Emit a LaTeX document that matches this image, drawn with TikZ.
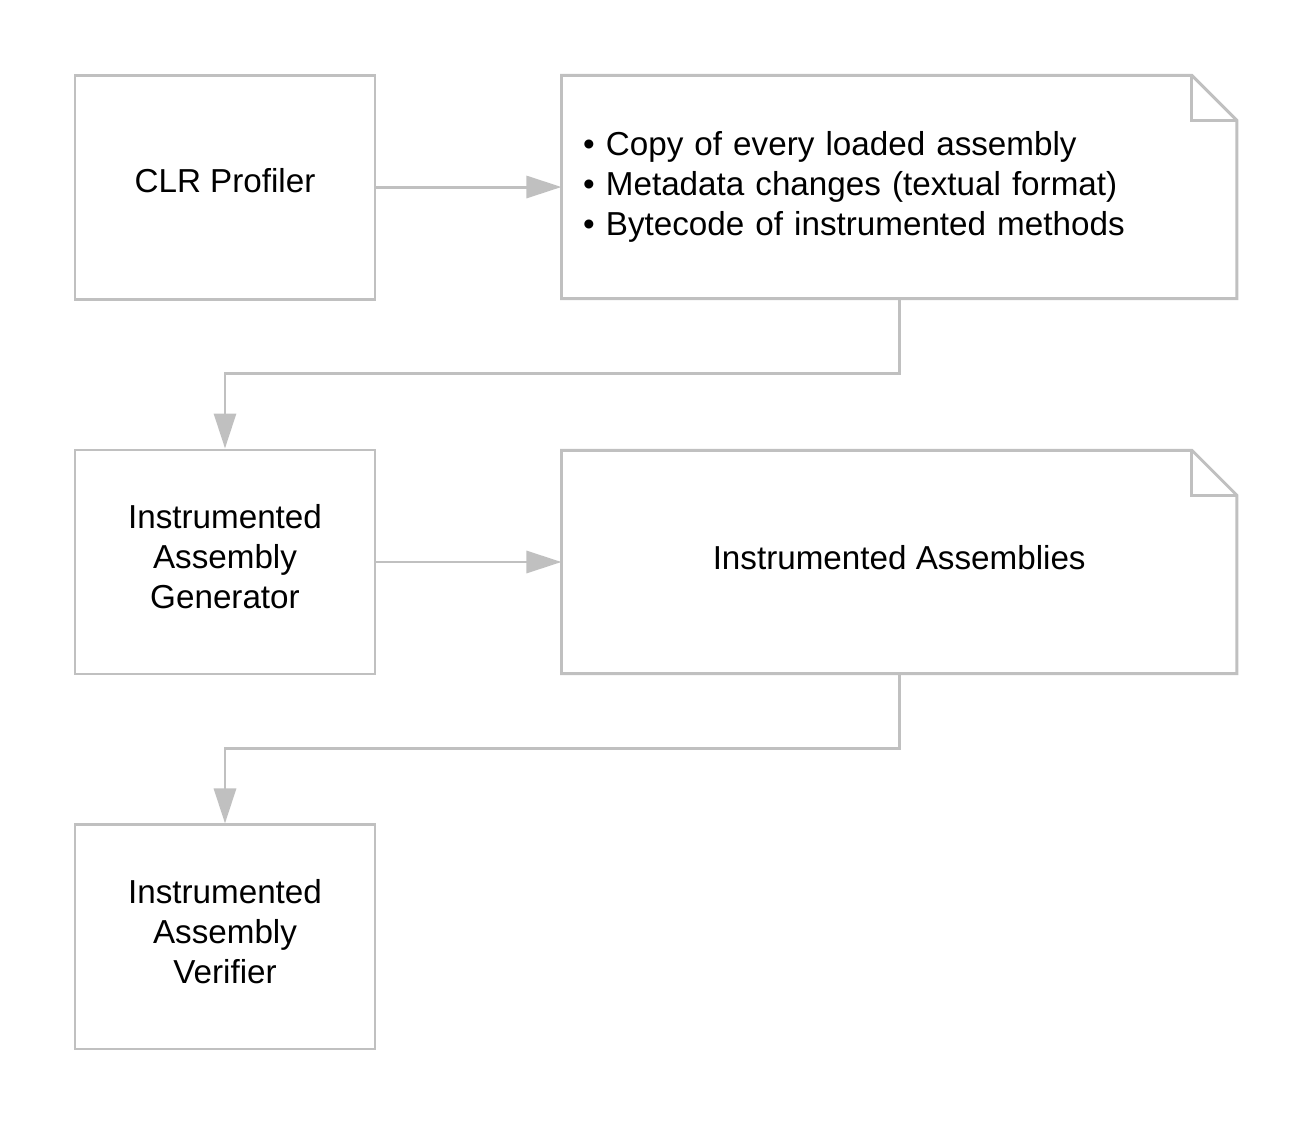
\documentclass[tikz,border=0pt]{standalone}
\usepackage{fontspec}
\setmainfont{Liberation Sans}
\usepackage{tikz}
\usetikzlibrary{arrows.meta,positioning}
\definecolor{lineg}{HTML}{C0C0C0}
\tikzset{
  box/.style={draw=lineg,line width=0.85pt,minimum width=3cm,minimum height=2.24cm,
    align=center,inner sep=0pt},
  note/.style={minimum width=6.74cm,minimum height=2.22cm,inner sep=0pt},
  every node/.style={font=\fontsize{9.45}{11.4}\selectfont}
}
\tikzstyle{arrow} = [draw=lineg,line width=0.85pt,-{Triangle[length=3.5mm,width=2.2mm,fill=lineg]}]
\newcommand{\dogear}[1]{%
  \draw[draw=lineg,line width=0.85pt] (#1.north west) -- ([xshift=-0.45cm]#1.north east)
    -- ([yshift=-0.45cm]#1.north east) -- (#1.south east) -- (#1.south west) -- cycle;
  \draw[draw=lineg,line width=0.85pt] ([xshift=-0.45cm]#1.north east)
    |- ([yshift=-0.45cm]#1.north east);}

\begin{document}
\begin{tikzpicture}[node distance=1.48cm and 1.85cm]
  \useasboundingbox (0,0) rectangle (13.13,-11.25);
  % tools and outputs
  \node[box] (profiler) at (2.25,-1.87) {\raisebox{0.14cm}{CLR Profiler}};
  \node[note,right=of profiler,text width=6.32cm,align=left] (dump)
    {\textbullet\ Copy of every loaded assembly\\
     \textbullet\ Metadata changes (textual format)\\
     \textbullet\ Bytecode of instrumented methods};
  \dogear{dump}
  \node[box,below=of profiler,text depth=0.11cm] (generator) {Instrumented\\Assembly\\Generator};
  \node[note,right=of generator] (assemblies) {\raisebox{0.1cm}{Instrumented Assemblies}};
  \dogear{assemblies}
  \node[box,below=of generator,text depth=0.11cm] (verifier) {Instrumented\\Assembly\\Verifier};
  % connectors
  \draw[arrow] (profiler) -- (dump);
  \draw[arrow] (dump.south) -- ++(0,-0.75) -| (generator.north);
  \draw[arrow] (generator) -- (assemblies);
  \draw[arrow] (assemblies.south) -- ++(0,-0.75) -| (verifier.north);
\end{tikzpicture}
\end{document}
